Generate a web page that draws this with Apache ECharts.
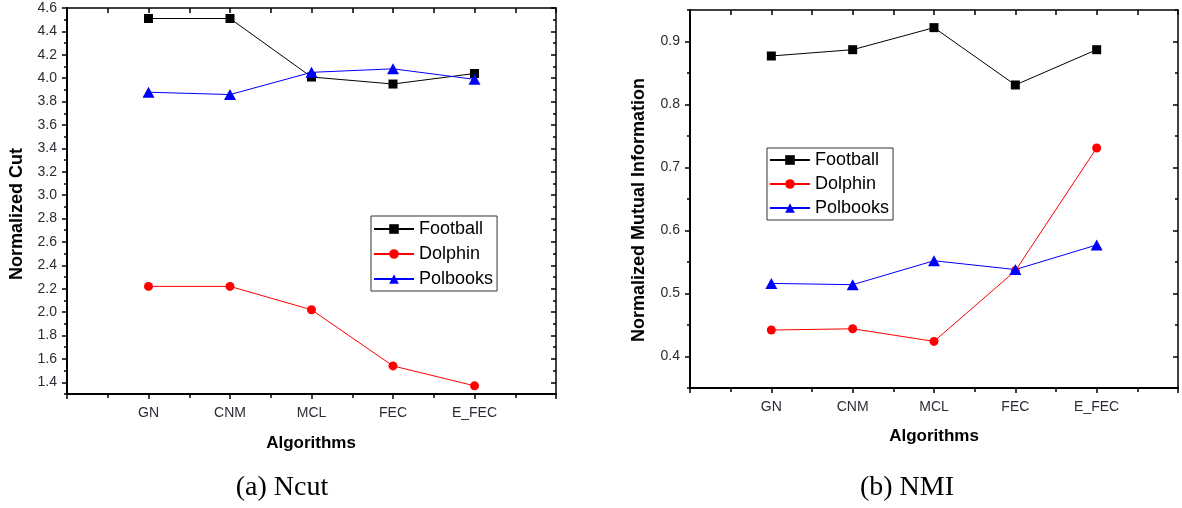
<!DOCTYPE html>
<html>
<head>
<meta charset="utf-8">
<script src="https://cdn.jsdelivr.net/npm/echarts@6/dist/echarts.min.js"></script>
<style>
html,body{margin:0;padding:0;background:#fff}
#chart{width:1182px;height:508px}
</style>
</head>
<body>
<div id="chart"></div>
<script>
// categories (x positions 1..5, axis runs 0..6)
var algos = ['GN', 'CNM', 'MCL', 'FEC', 'E_FEC'];
var seriesNames = ['Football', 'Dolphin', 'Polbooks'];

// (a) Ncut
var ncutFootball = [4.51, 4.51, 4.01, 3.95, 4.04];
var ncutDolphin  = [2.22, 2.22, 2.02, 1.54, 1.37];
var ncutPolbooks = [3.88, 3.86, 4.05, 4.08, 3.99];
var ncutTicks = [1.4, 1.6, 1.8, 2.0, 2.2, 2.4, 2.6, 2.8, 3.0, 3.2, 3.4, 3.6, 3.8, 4.0, 4.2, 4.4, 4.6];

// (b) NMI
var nmiFootball = [0.877, 0.887, 0.922, 0.831, 0.887];
var nmiDolphin  = [0.442, 0.444, 0.424, 0.536, 0.731];
var nmiPolbooks = [0.516, 0.514, 0.552, 0.538, 0.577];
var nmiTicks = [0.4, 0.5, 0.6, 0.7, 0.8, 0.9];

var FONT = '"Liberation Sans", Arial, sans-serif';
var LABEL_COLOR = '#2b2b36';

function pts(vals) {
  return vals.map(function (v, i) { return [i + 1, v]; });
}

function xAxes(g) {
  return [
    {
      gridIndex: g, type: 'value', position: 'bottom', min: 0, max: 6, interval: 1,
      axisLine: { lineStyle: { color: '#000', width: 2 } },
      axisTick: { length: 5, lineStyle: { color: '#000', width: 1.5 } },
      minorTick: { show: true, splitNumber: 2, length: 4, lineStyle: { color: '#000', width: 1.5 } },
      splitLine: { show: false },
      axisLabel: {
        margin: 12, fontSize: 14, fontFamily: FONT, color: LABEL_COLOR,
        formatter: function (v) { return algos[v - 1] || ''; }
      }
    },
    {
      gridIndex: g, type: 'value', position: 'top', min: 0, max: 6, interval: 1,
      axisLine: { lineStyle: { color: '#000', width: 1.5 } },
      axisTick: { inside: true, length: 5, lineStyle: { color: '#000', width: 1.5 } },
      minorTick: { show: true, splitNumber: 2, length: 5, lineStyle: { color: '#000', width: 1.5 } },
      splitLine: { show: false },
      axisLabel: { show: false }
    }
  ];
}

function yAxes(g, min, max, minorStep, majors) {
  var base = { gridIndex: g, type: 'value', min: min, max: max, splitLine: { show: false } };
  return [
    // left, major ticks + labels
    Object.assign({}, base, {
      position: 'left',
      axisLine: { show: true, lineStyle: { color: '#000', width: 2 } },
      axisTick: { customValues: majors, length: 5, lineStyle: { color: '#000', width: 1.5 } },
      axisLabel: {
        customValues: majors, margin: 10, fontSize: 14, fontFamily: FONT, color: LABEL_COLOR,
        formatter: function (v) { return v.toFixed(1); }
      }
    }),
    // left, minor ticks
    Object.assign({}, base, {
      position: 'left', interval: minorStep,
      axisLine: { show: false },
      axisTick: { length: 3, lineStyle: { color: '#000', width: 1.5 } },
      axisLabel: { show: false }
    }),
    // right, major ticks
    Object.assign({}, base, {
      position: 'right',
      axisLine: { show: true, lineStyle: { color: '#000', width: 1.5 } },
      axisTick: { customValues: majors, inside: true, length: 5, lineStyle: { color: '#000', width: 1.5 } },
      axisLabel: { show: false }
    }),
    // right, minor ticks
    Object.assign({}, base, {
      position: 'right', interval: minorStep,
      axisLine: { show: false },
      axisTick: { inside: true, length: 3, lineStyle: { color: '#000', width: 1.5 } },
      axisLabel: { show: false }
    })
  ];
}

function line(name, data, color, symbol, size, xi, yi) {
  return {
    name: name, type: 'line', xAxisIndex: xi, yAxisIndex: yi,
    data: pts(data), symbol: symbol, symbolSize: size,
    lineStyle: { color: color, width: 1 },
    itemStyle: { color: color },
    z: 3
  };
}

function legend(left, top, gap, pad) {
  return {
    data: seriesNames, orient: 'vertical', left: left, top: top,
    itemWidth: 40, itemHeight: 12, itemGap: gap, padding: pad,
    borderColor: '#333', borderWidth: 1,
    textStyle: { fontSize: 18, fontFamily: FONT, color: '#000' }
  };
}

function txt(text, x, y, font, rot) {
  return {
    type: 'text', x: x, y: y, rotation: rot || 0,
    style: {
      text: text, font: font, fill: '#000',
      align: 'center', verticalAlign: 'middle',
      textAlign: 'center', textVerticalAlign: 'middle'
    }
  };
}

var myChart = echarts.init(document.getElementById('chart'));

var option = {
  animation: false,
  backgroundColor: '#fff',
  grid: [
    { left: 67, top: 8, width: 489, height: 386 },
    { left: 690, top: 10, width: 488, height: 378 }
  ],
  xAxis: xAxes(0).concat(xAxes(1)),
  yAxis: yAxes(0, 1.3, 4.6, 0.1, ncutTicks).concat(yAxes(1, 0.35, 0.95, 0.05, nmiTicks)),
  legend: [
    legend(371, 216, 7, [4, 4, 3, 2]),
    legend(767, 148, 6, [3, 4, 3, 2])
  ],
  series: [
    line('Football', ncutFootball, '#000000', 'rect', 9, 0, 0),
    line('Dolphin', ncutDolphin, '#ff0000', 'circle', 9, 0, 0),
    line('Polbooks', ncutPolbooks, '#0000ff', 'triangle', [12, 11], 0, 0),
    line('Football', nmiFootball, '#000000', 'rect', 9, 2, 4),
    line('Dolphin', nmiDolphin, '#ff0000', 'circle', 9, 2, 4),
    line('Polbooks', nmiPolbooks, '#0000ff', 'triangle', [12, 11], 2, 4)
  ],
  graphic: [
    txt('Normalized Cut', 17, 214, 'bold 18px ' + FONT, Math.PI / 2),
    txt('Algorithms', 311, 443, 'bold 17px ' + FONT),
    txt('Normalized Mutual Information', 639, 210, 'bold 18px ' + FONT, Math.PI / 2),
    txt('Algorithms', 934, 436, 'bold 17px ' + FONT),
    txt('(a) Ncut', 282, 488, '28px "Liberation Serif", "Times New Roman", serif'),
    txt('(b) NMI', 907, 488, '28px "Liberation Serif", "Times New Roman", serif')
  ]
};

myChart.setOption(option);
</script>
</body>
</html>
